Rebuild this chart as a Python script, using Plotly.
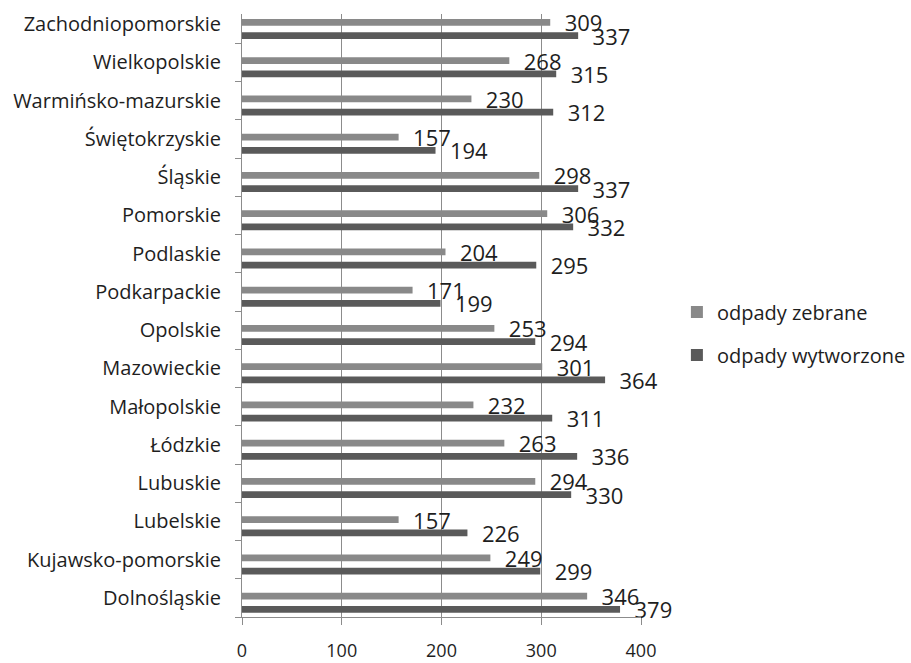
import plotly.graph_objects as go

categories = ["Dolnośląskie", "Kujawsko-pomorskie", "Lubelskie", "Lubuskie", "Łódzkie",
              "Małopolskie", "Mazowieckie", "Opolskie", "Podkarpackie", "Podlaskie",
              "Pomorskie", "Śląskie", "Świętokrzyskie", "Warmińsko-mazurskie",
              "Wielkopolskie", "Zachodniopomorskie"]
zebrane = [346, 249, 157, 294, 263, 232, 301, 253, 171, 204, 306, 298, 157, 230, 268, 309]
wytworzone = [379, 299, 226, 330, 336, 311, 364, 294, 199, 295, 332, 337, 194, 312, 315, 337]
x_ticks = [0, 100, 200, 300, 400]

FONT = "Open Sans"
TXT = "#1e1e1e"

fig = go.Figure()
fig.add_trace(go.Bar(
    y=categories, x=wytworzone, orientation="h", name="odpady wytworzone",
    legendgroup="b", legendrank=2,
    marker=dict(color="#5a5a5a", line=dict(width=0)),
    offset=-0.39, width=0.18,
    texttemplate="  %{x}", textposition="outside",
    textfont=dict(family=FONT, size=22, color=TXT), constraintext="none", cliponaxis=False,
))
fig.add_trace(go.Bar(
    y=categories, x=zebrane, orientation="h", name="odpady zebrane",
    legendgroup="a", legendrank=1,
    marker=dict(color="#898989", line=dict(width=0)),
    offset=-0.045, width=0.18,
    texttemplate="  %{x}", textposition="outside",
    textfont=dict(family=FONT, size=22, color=TXT), constraintext="none", cliponaxis=False,
))

fig.update_layout(
    width=911, height=663,
    margin=dict(l=242, r=270, t=14, b=46, autoexpand=False),
    paper_bgcolor="white", plot_bgcolor="white",
    barmode="overlay",
    font=dict(family=FONT, size=16, color=TXT),
    legend=dict(traceorder="grouped", x=1.09, y=0.47, xanchor="left", yanchor="middle",
                font=dict(family=FONT, size=20, color=TXT), tracegroupgap=14,
                itemwidth=30, bgcolor="rgba(0,0,0,0)"),
    xaxis=dict(range=[0, 400], tickvals=x_ticks, showgrid=True, gridcolor="#8c8c8c", gridwidth=1,
               showline=True, linecolor="#8c8c8c", ticks="outside", ticklen=7, tickcolor="#8c8c8c",
               tickfont=dict(family=FONT, size=18, color=TXT), ticklabelstandoff=10,
               zeroline=False, automargin=False),
    yaxis=dict(type="category", categoryorder="array", categoryarray=categories,
               range=[-0.5, 15.265],
               showline=True, linecolor="#8c8c8c", ticks="outside", ticklen=6, tickcolor="#8c8c8c",
               tickson="boundaries", showgrid=False, automargin=False,
               tickfont=dict(family=FONT, size=20, color=TXT), ticklabelstandoff=16),
)

fig.write_html("out.html", config={"responsive": False, "displayModeBar": False},
               post_script="document.body.style.margin='0';document.body.style.overflow='hidden';")
